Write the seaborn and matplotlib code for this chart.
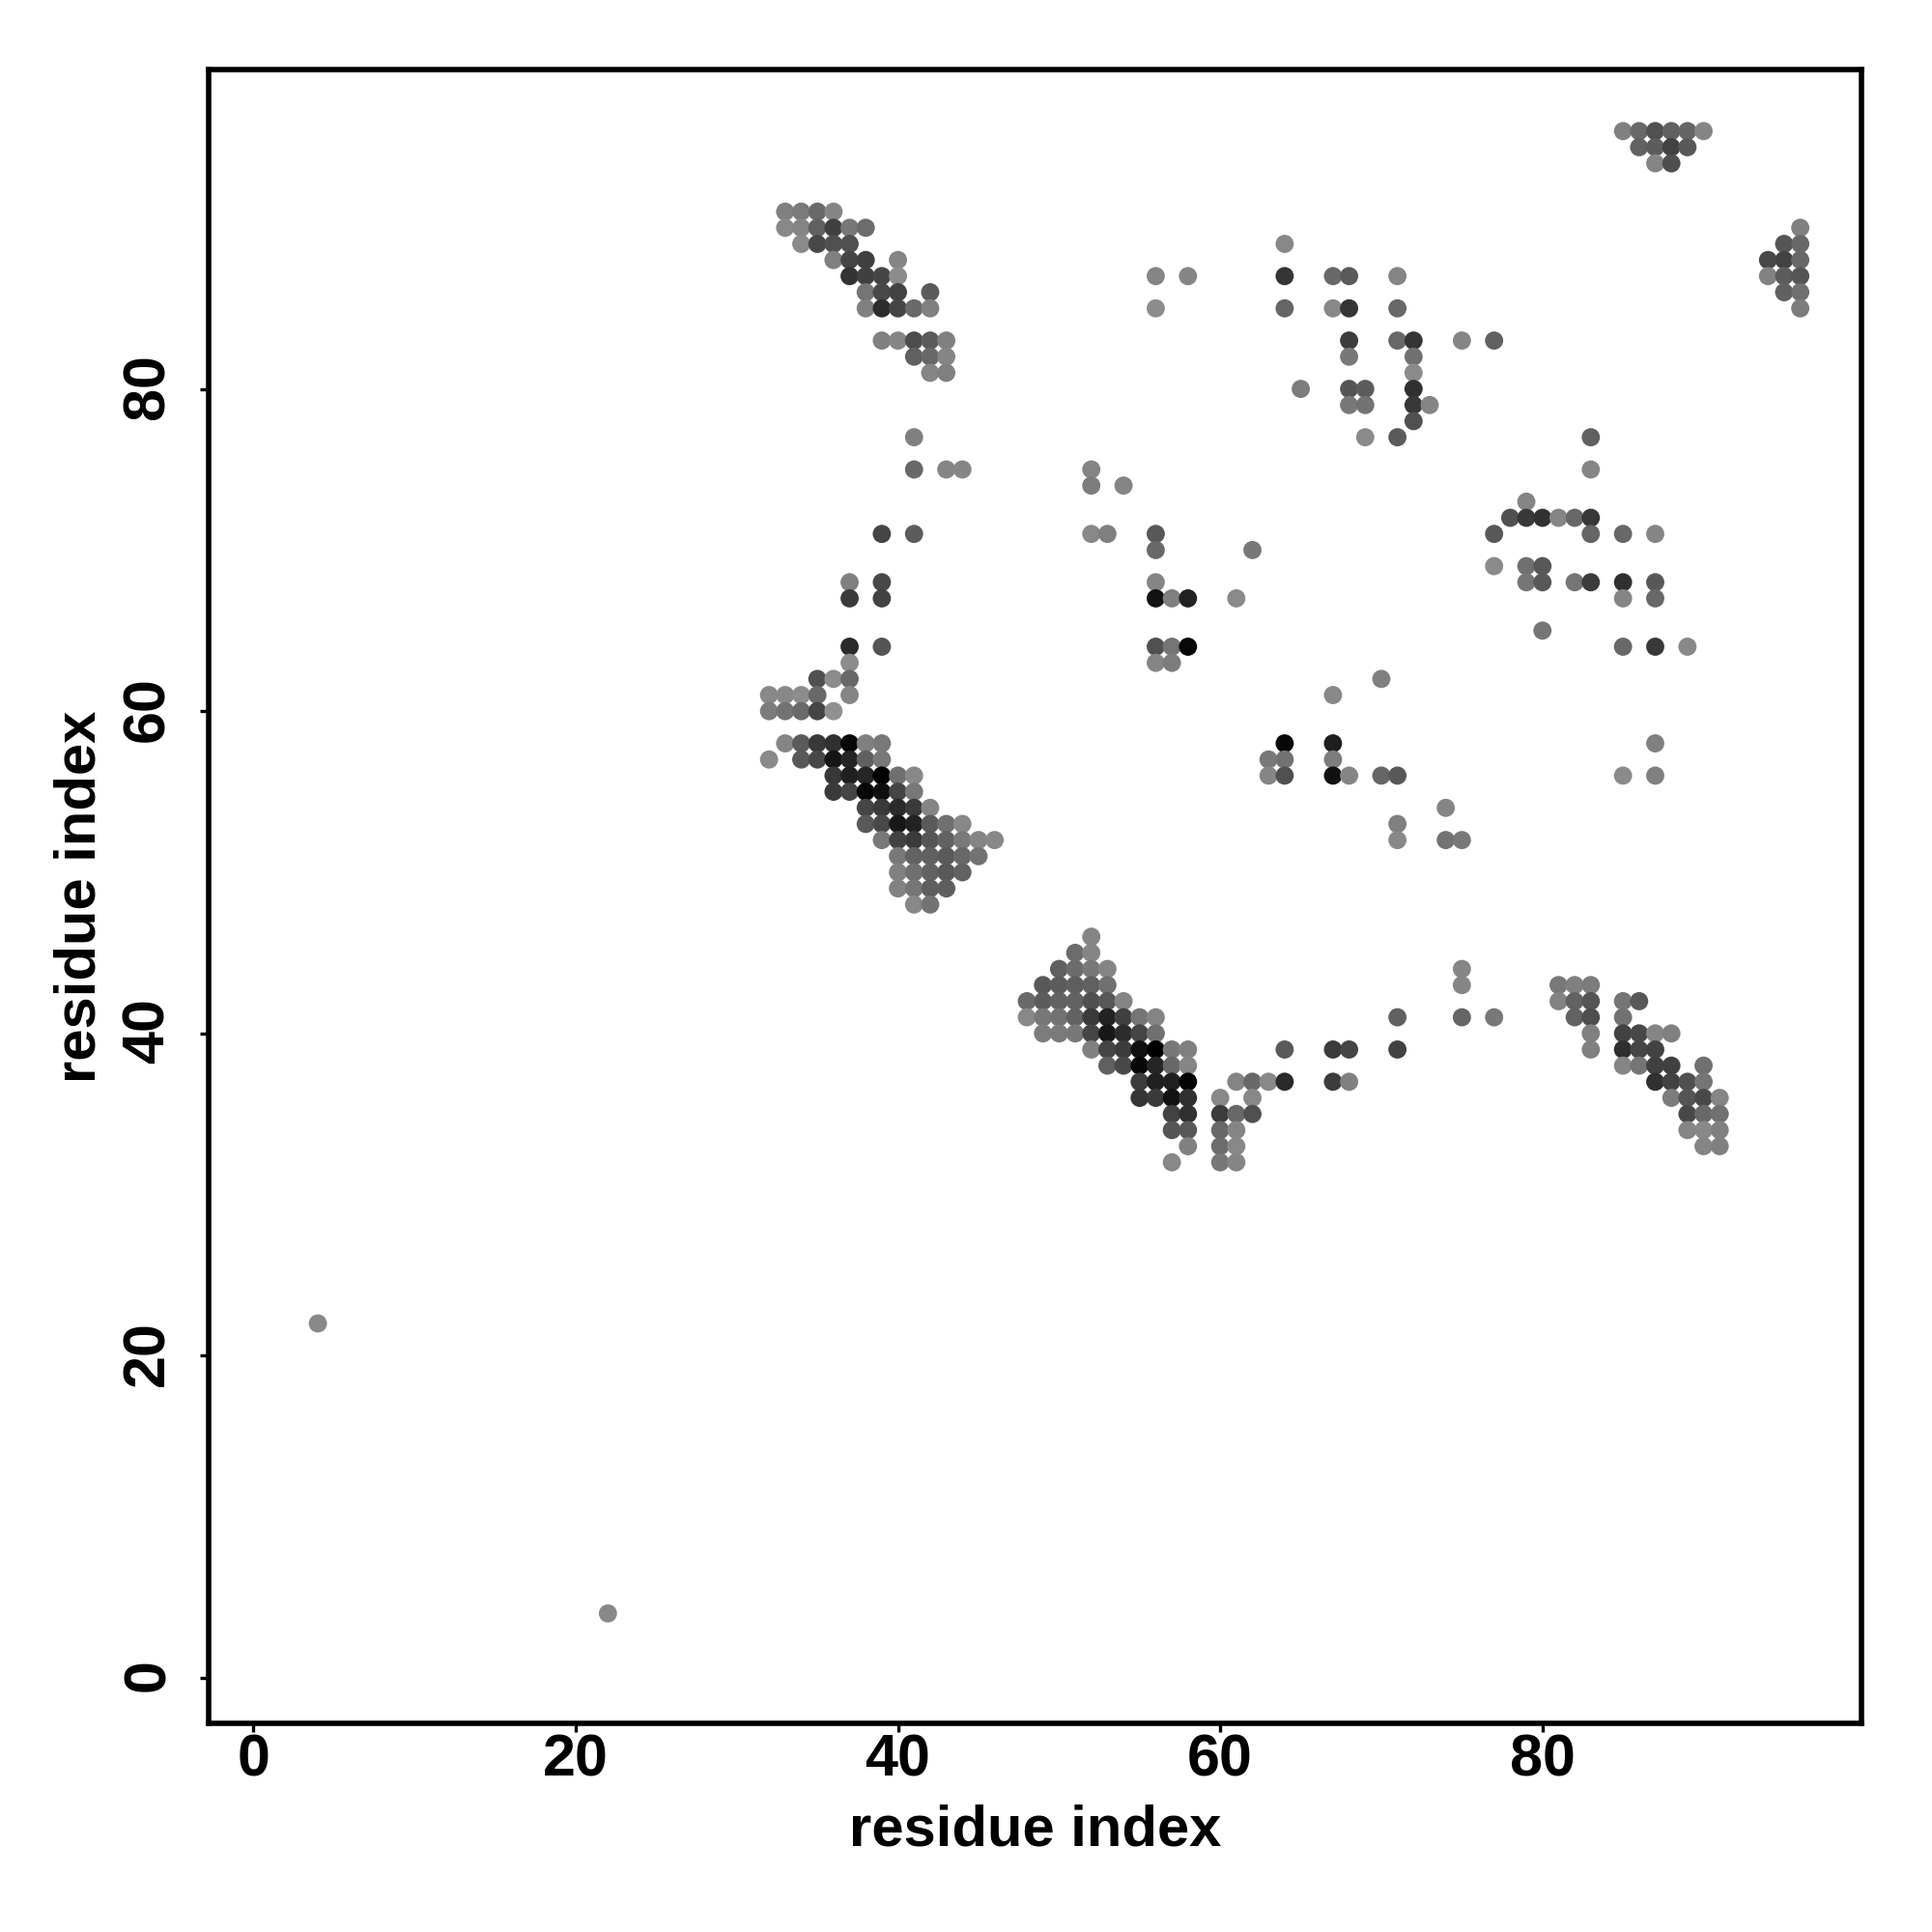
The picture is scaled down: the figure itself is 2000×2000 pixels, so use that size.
import numpy as np
import pandas as pd
import seaborn as sns
import matplotlib
matplotlib.use('Agg')
import matplotlib.pyplot as plt
from matplotlib.transforms import ScaledTranslation

### contact map values, one entry per row of the map (gray level 0-255)
row_y = [96, 95, 94, 91, 90, 89, 88, 87, 86, 85, 83, 82, 81, 80, 79, 78, 77,
         75, 74, 73, 72, 71, 70, 69, 68, 67, 65, 64, 63, 62, 61, 60, 58, 57,
         56, 55, 54, 53, 52, 51, 50, 49, 48, 46, 45, 44, 43, 42, 41, 40, 39,
         38, 37, 36, 35, 34, 33, 32, 22, 4]

row_x = [
    [85, 86, 87, 88, 89, 90],
    [86, 87, 88, 89],
    [87, 88],
    [33, 34, 35, 36],
    [33, 34, 35, 36, 37, 38, 96],
    [34, 35, 36, 37, 64, 95, 96],
    [36, 37, 38, 40, 94, 95, 96],
    [37, 38, 39, 40, 56, 58, 64, 67, 68, 71, 94, 95, 96],
    [38, 39, 40, 42, 95, 96],
    [38, 39, 40, 41, 42, 56, 64, 67, 68, 71, 96],
    [39, 40, 41, 42, 43, 68, 71, 72, 75, 77],
    [41, 42, 43, 68, 72],
    [42, 43, 72],
    [65, 68, 69, 72],
    [68, 69, 72, 73],
    [72],
    [41, 69, 71, 83],
    [41, 43, 44, 52, 83],
    [52, 54],
    [79],
    [78, 79, 80, 81, 82, 83],
    [39, 41, 52, 53, 56, 77, 83, 85, 87],
    [56, 62],
    [77, 79, 80],
    [37, 39, 56, 79, 80, 82, 83, 85, 87],
    [37, 39, 56, 57, 58, 61, 85, 87],
    [80],
    [37, 39, 56, 57, 58, 85, 87, 89],
    [37, 56, 57],
    [35, 36, 37, 70],
    [32, 33, 34, 35, 37, 67],
    [32, 33, 34, 35, 36],
    [33, 34, 35, 36, 37, 38, 39, 64, 67, 87],
    [32, 34, 35, 36, 37, 38, 39, 63, 64, 67],
    [36, 37, 38, 39, 40, 41, 63, 64, 67, 68, 70, 71, 85, 87],
    [36, 37, 38, 39, 40, 41],
    [38, 39, 40, 41, 42, 74],
    [38, 39, 40, 41, 42, 43, 44, 71],
    [39, 40, 41, 42, 43, 44, 45, 46, 71, 74, 75],
    [40, 41, 42, 43, 44, 45],
    [40, 41, 42, 43, 44],
    [40, 41, 42, 43],
    [41, 42],
    [52],
    [51, 52],
    [50, 51, 52, 53, 75],
    [49, 50, 51, 52, 53, 75, 81, 82, 83],
    [48, 49, 50, 51, 52, 53, 54, 81, 82, 83, 85, 86],
    [48, 49, 50, 51, 52, 53, 54, 55, 56, 71, 75, 77, 82, 83, 85],
    [49, 50, 51, 52, 53, 54, 55, 56, 83, 85, 86, 87, 88],
    [52, 53, 54, 55, 56, 57, 58, 64, 67, 68, 71, 83, 85, 86, 87],
    [53, 54, 55, 56, 57, 58, 85, 86, 87, 88, 90],
    [55, 56, 57, 58, 61, 62, 63, 64, 67, 68, 87, 88, 89, 90],
    [55, 56, 57, 58, 60, 62, 88, 89, 90, 91],
    [57, 58, 60, 61, 62, 89, 90, 91],
    [57, 58, 60, 61, 89, 90, 91],
    [58, 60, 61, 90, 91],
    [57, 60, 61],
    [4],
    [22],
]

row_gray = [
    [0x80, 0x68, 0x50, 0x60, 0x65, 0x85],
    [0x62, 0x5c, 0x42, 0x58],
    [0x85, 0x4e],
    [0x80, 0x7a, 0x6a, 0x85],
    [0x88, 0x85, 0x60, 0x40, 0x78, 0x6c, 0x80],
    [0x8a, 0x48, 0x50, 0x50, 0x88, 0x55, 0x68],
    [0x80, 0x45, 0x40, 0x85, 0x48, 0x42, 0x68],
    [0x33, 0x40, 0x45, 0x8c, 0x85, 0x85, 0x35, 0x68, 0x5a, 0x85, 0x82, 0x5c, 0x55],
    [0x75, 0x48, 0x42, 0x5a, 0x60, 0x70],
    [0x80, 0x2d, 0x45, 0x6a, 0x80, 0x8c, 0x65, 0x88, 0x35, 0x68, 0x7c],
    [0x80, 0x85, 0x4d, 0x5c, 0x80, 0x3c, 0x68, 0x35, 0x85, 0x60],
    [0x60, 0x68, 0x85, 0x78, 0x70],
    [0x85, 0x80, 0x8a],
    [0x7c, 0x55, 0x5c, 0x30],
    [0x78, 0x72, 0x38, 0x85],
    [0x50],
    [0x80, 0x8a, 0x5a, 0x60],
    [0x68, 0x85, 0x85, 0x85, 0x85],
    [0x7c, 0x85],
    [0x85],
    [0x50, 0x38, 0x32, 0x85, 0x68, 0x38],
    [0x45, 0x5c, 0x88, 0x80, 0x58, 0x58, 0x65, 0x68, 0x85],
    [0x68, 0x78],
    [0x8a, 0x70, 0x58],
    [0x80, 0x48, 0x85, 0x75, 0x58, 0x75, 0x3c, 0x30, 0x58],
    [0x3a, 0x42, 0x12, 0x80, 0x22, 0x8a, 0x85, 0x68],
    [0x75],
    [0x2a, 0x55, 0x50, 0x75, 0x08, 0x68, 0x38, 0x88],
    [0x8c, 0x85, 0x7c],
    [0x50, 0x8c, 0x68, 0x80],
    [0x88, 0x88, 0x8c, 0x68, 0x85, 0x88],
    [0x7c, 0x72, 0x6a, 0x45, 0x90],
    [0x85, 0x5a, 0x38, 0x30, 0x08, 0x80, 0x78, 0x08, 0x1e, 0x80],
    [0x8a, 0x58, 0x48, 0x15, 0x25, 0x60, 0x78, 0x78, 0x72, 0x7c],
    [0x38, 0x20, 0x25, 0x00, 0x70, 0x88, 0x85, 0x50, 0x10, 0x85, 0x65, 0x58, 0x8a, 0x80],
    [0x3a, 0x45, 0x08, 0x10, 0x45, 0x78],
    [0x45, 0x3a, 0x2a, 0x3a, 0x85, 0x85],
    [0x58, 0x48, 0x18, 0x22, 0x5a, 0x70, 0x88, 0x80],
    [0x78, 0x42, 0x3a, 0x55, 0x62, 0x7a, 0x85, 0x88, 0x88, 0x72, 0x78],
    [0x78, 0x62, 0x60, 0x5a, 0x68, 0x72],
    [0x80, 0x70, 0x62, 0x58, 0x62],
    [0x82, 0x75, 0x5e, 0x5e],
    [0x88, 0x72],
    [0x85],
    [0x6c, 0x85],
    [0x60, 0x6c, 0x78, 0x85, 0x85],
    [0x58, 0x5c, 0x5e, 0x60, 0x70, 0x85, 0x78, 0x80, 0x7c],
    [0x6a, 0x5c, 0x62, 0x62, 0x50, 0x58, 0x85, 0x82, 0x62, 0x55, 0x75, 0x58],
    [0x88, 0x78, 0x72, 0x62, 0x3a, 0x22, 0x40, 0x75, 0x85, 0x60, 0x65, 0x78, 0x62, 0x4e, 0x72],
    [0x7c, 0x7a, 0x78, 0x45, 0x18, 0x2c, 0x45, 0x70, 0x80, 0x42, 0x48, 0x85, 0x80],
    [0x80, 0x45, 0x3c, 0x10, 0x00, 0x78, 0x80, 0x5a, 0x3c, 0x45, 0x42, 0x80, 0x2e, 0x45, 0x42],
    [0x60, 0x48, 0x08, 0x25, 0x68, 0x85, 0x85, 0x75, 0x40, 0x40, 0x70],
    [0x3c, 0x20, 0x20, 0x05, 0x85, 0x68, 0x88, 0x2a, 0x3c, 0x80, 0x30, 0x42, 0x50, 0x75],
    [0x35, 0x3a, 0x12, 0x30, 0x88, 0x88, 0x7c, 0x55, 0x48, 0x85],
    [0x42, 0x30, 0x3c, 0x68, 0x50, 0x48, 0x68, 0x70],
    [0x55, 0x58, 0x68, 0x85, 0x85, 0x88, 0x80],
    [0x80, 0x6c, 0x88, 0x85, 0x80],
    [0x88, 0x78, 0x85],
    [0x88],
    [0x88],
]

x_ticks = [0, 20, 40, 60, 80]
y_ticks = [0, 20, 40, 60, 80]

### long table, drawn left to right so that later columns sit on top
contacts = pd.DataFrame({
    'i': [x for xs in row_x for x in xs],
    'j': [y for y, xs in zip(row_y, row_x) for x in xs],
    'gray': [g for gs in row_gray for g in gs],
})
contacts = contacts.sort_values('i', kind='stable')

sns.set_style('white')
plt.rcParams['font.family'] = ['Liberation Sans', 'DejaVu Sans']
plt.rcParams['font.weight'] = 'bold'
plt.rcParams['text.color'] = 'black'
plt.rcParams['axes.labelcolor'] = 'black'
plt.rcParams['xtick.color'] = 'black'
plt.rcParams['ytick.color'] = 'black'

fig = plt.figure(figsize=(10, 10), dpi=200)
ax = fig.add_axes([216 / 2000, 1 - 1784 / 2000, 1711 / 2000, 1712 / 2000])

sns.scatterplot(data=contacts, x='i', y='j', hue='gray', palette='gray',
                hue_norm=(0, 255), s=46, linewidth=0, edgecolor='none',
                legend=False, ax=ax)

ax.set_xlim(-2.78, 99.8)
ax.set_ylim(-2.82, 99.82)
ax.set_xticks(x_ticks)
ax.set_yticks(y_ticks)
ax.tick_params(axis='both', bottom=True, left=True, length=3.2, width=1.2,
               color='black', labelsize=22)
ax.tick_params(axis='x', pad=0.6)
ax.tick_params(axis='y', pad=8.8)
plt.setp(ax.get_yticklabels(), rotation=90, va='center')

# small nudge, the rotated digits sit a bit low otherwise
nudge_y = ScaledTranslation(0, 2.5 / 200, fig.dpi_scale_trans)
for label in ax.get_yticklabels():
    label.set_transform(label.get_transform() + nudge_y)

for side in ax.spines.values():
    side.set_visible(True)
    side.set_color('black')
    side.set_linewidth(2.0)

ax.set_xlabel('residue index', fontsize=21.5, fontweight='bold', va='center')
ax.set_ylabel('residue index', fontsize=21.5, fontweight='bold', va='center')
ax.xaxis.set_label_coords(0.5, -(1895 - 1784) / 1712)
ax.yaxis.set_label_coords(-(216 - 83) / 1711, 0.5)

fig.savefig('out.png', dpi=200, facecolor='white')
